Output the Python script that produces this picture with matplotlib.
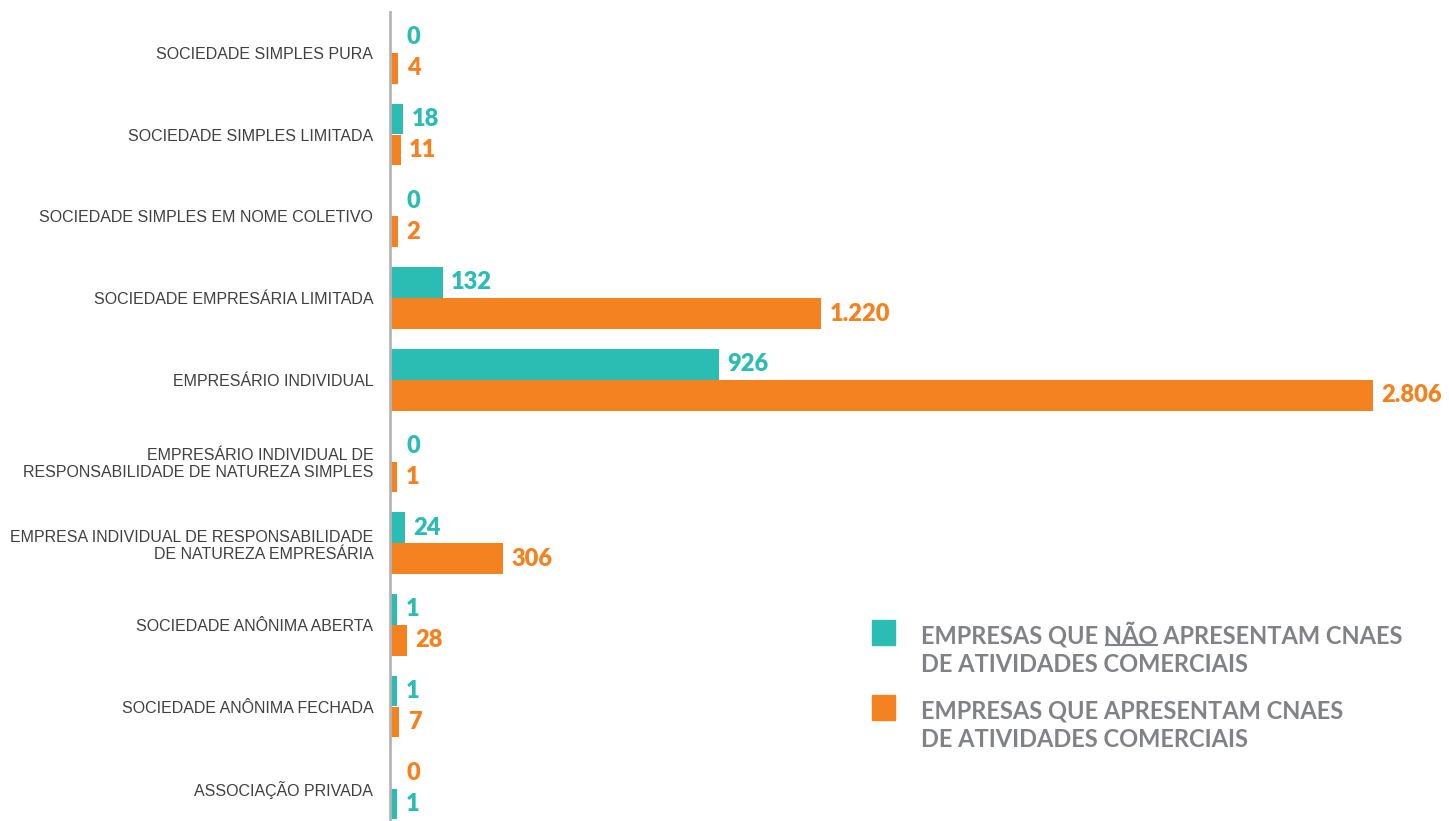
import matplotlib.pyplot as plt
from matplotlib.patches import Rectangle

# dados
categorias = [
    'SOCIEDADE SIMPLES PURA',
    'SOCIEDADE SIMPLES LIMITADA',
    'SOCIEDADE SIMPLES EM NOME COLETIVO',
    'SOCIEDADE EMPRESÁRIA LIMITADA',
    'EMPRESÁRIO INDIVIDUAL',
    'EMPRESÁRIO INDIVIDUAL DE\nRESPONSABILIDADE DE NATUREZA SIMPLES',
    'EMPRESA INDIVIDUAL DE RESPONSABILIDADE\nDE NATUREZA EMPRESÁRIA',
    'SOCIEDADE ANÔNIMA ABERTA',
    'SOCIEDADE ANÔNIMA FECHADA',
    'ASSOCIAÇÃO PRIVADA',
]
sem_cnae = [0, 18, 0, 132, 926, 0, 24, 1, 1, 1]
com_cnae = [4, 11, 2, 1220, 2806, 1, 306, 28, 7, 0]
laranja_em_cima = [False] * 9 + [True]   # ultima linha tem ordem invertida

rotulo_sem = 'EMPRESAS QUE NÃO APRESENTAM CNAES\nDE ATIVIDADES COMERCIAIS'
rotulo_com = 'EMPRESAS QUE APRESENTAM CNAES\nDE ATIVIDADES COMERCIAIS'

# cores
teal = '#2bbdb3'
orange = '#f58220'
cinza = '#808285'

W, H = 1449, 821
fig = plt.figure(figsize=(W / 100, H / 100), dpi=100)
ax = fig.add_axes([390 / W, 0, 1 - 390 / W, 1 - 12 / H])

altura = 0.375
pad = 20  # largura minima visivel das barras

def fmt(v):
    return f"{v:,}".replace(',', '.')

for i in range(len(categorias)):
    s = sem_cnae[i]
    c = com_cnae[i]
    yt, yo = (i - 0.19, i + 0.19)
    if laranja_em_cima[i]:
        yt, yo = yo, yt
    for v, y, cor in [(s, yt, teal), (c, yo, orange)]:
        w = v + pad if v > 0 else 0
        ax.barh(y, w, height=altura, color=cor, linewidth=0)
        ax.annotate(fmt(v), (w, y), xytext=(6 if v > 0 else 12, 0),
                    textcoords='offset points', va='center', ha='left',
                    fontsize=17, fontweight='heavy', family='Lato', color=cor)

ax.set_xlim(0, 3044)
ax.set_ylim(9.4, -0.5)
ax.set_yticks(range(len(categorias)))
ax.set_yticklabels(categorias, fontsize=11.5, color='#404040',
                   family='Liberation Sans', linespacing=1.2)
ax.tick_params(axis='y', length=0, pad=12)
ax.set_xticks([])
for s in ['top', 'right', 'bottom']:
    ax.spines[s].set_visible(False)
ax.spines['left'].set_color('#b5b5b5')
ax.spines['left'].set_linewidth(2)

# legenda
fig.patches.append(Rectangle((872 / W, 1 - 645 / H), 23 / W, 25 / H,
                             transform=fig.transFigure, color=teal))
fig.patches.append(Rectangle((872 / W, 1 - 720 / H), 23 / W, 25 / H,
                             transform=fig.transFigure, color=orange))
fs_leg = 17
kw = dict(fontsize=fs_leg, fontweight='bold', family='Lato', color=cinza,
          va='center', ha='left', linespacing=1.3)
fig.text(921 / W, 1 - 649 / H, rotulo_sem, **kw)
fig.text(921 / W, 1 - 725 / H, rotulo_com, **kw)

# sublinhado em "NÃO"
fig.canvas.draw()
r = fig.canvas.get_renderer()
pre = fig.text(921 / W, 0, 'EMPRESAS QUE ', fontsize=fs_leg, fontweight='bold', family='Lato')
pal = fig.text(921 / W, 0, 'EMPRESAS QUE NÃO', fontsize=fs_leg, fontweight='bold', family='Lato')
x0 = pre.get_window_extent(r).x1 + 2
x1 = pal.get_window_extent(r).x1
pre.remove()
pal.remove()
y_line = 1 - 645 / H
fig.add_artist(plt.Line2D([x0 / W, x1 / W], [y_line, y_line],
                          transform=fig.transFigure, color=cinza, linewidth=1.5))

fig.savefig('out.png', dpi=100)
